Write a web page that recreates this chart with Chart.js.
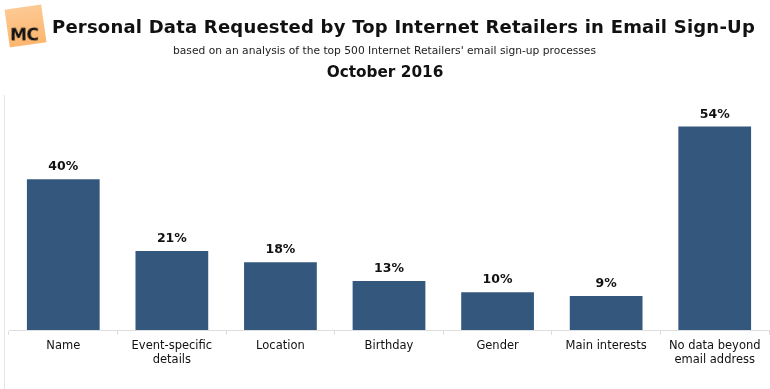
<!DOCTYPE html>
<html>
<head>
<meta charset="utf-8">
<script src="https://cdn.jsdelivr.net/npm/chart.js@4"></script>
<style>
  body { margin: 0; background: #fff; }
  #wrap { position: relative; width: 770px; height: 389px; overflow: hidden; }
  #chart { position: absolute; left: 0; top: 0; }
  .logo {
    position: absolute; left: 7px; top: 7px; width: 37px; height: 38px;
    background: linear-gradient(180deg, #fdc993 0%, #fcb66f 100%); transform: rotate(-8deg);
  }
  .logo span {
    position: absolute; left: 2px; top: 17px;
    font: bold 17px "DejaVu Sans", sans-serif; color: #111; letter-spacing: -0.5px;
    transform: rotate(8deg);
  }
  .title {
    position: absolute; left: 52px; top: 16px;
    font: bold 18px "DejaVu Sans", sans-serif; color: #111; white-space: nowrap;
  }
  .sub {
    position: absolute; left: 0; width: 769px; text-align: center;
    font: 10.7px "DejaVu Sans", sans-serif; color: #222; top: 44px;
  }
  .date {
    position: absolute; left: 0; width: 770px; text-align: center;
    font: bold 15.3px "DejaVu Sans", sans-serif; color: #111; top: 63px;
  }
  .edge { position: absolute; left: 4px; top: 95px; width: 1px; height: 294px; background: #e6e6e6; }
</style>
</head>
<body>
<div id="wrap">
  <canvas id="chart" width="770" height="389"></canvas>
  <div class="edge"></div>
  <div class="logo"><span>MC</span></div>
  <div class="title" id="title">Personal Data Requested by Top Internet Retailers in Email Sign-Up</div>
  <div class="sub">based on an analysis of the top 500 Internet Retailers' email sign-up processes</div>
  <div class="date">October 2016</div>
</div>
<script>
var categories = [
  'Name',
  ['Event-specific', 'details'],
  'Location',
  'Birthday',
  'Gender',
  'Main interests',
  ['No data beyond', 'email address']
]
var shares = [40, 21, 18, 13, 10, 9, 54]

// stretch the title to the width it has in the original
var t = document.getElementById('title')
var w = t.getBoundingClientRect().width
var chars = t.textContent.length
t.style.letterSpacing = ((703 - w) / chars) + 'px'

var valueLabels = {
  id: 'valueLabels',
  afterDatasetsDraw: function(chart) {
    var ctx = chart.ctx
    var meta = chart.getDatasetMeta(0)
    ctx.save()
    ctx.font = 'bold 12.5px "DejaVu Sans", sans-serif'
    ctx.fillStyle = '#111'
    ctx.textAlign = 'center'
    ctx.textBaseline = 'bottom'
    meta.data.forEach(function(bar, i) {
      ctx.fillText(shares[i] + '%', bar.x, bar.y - 6)
    })
    ctx.restore()
  }
}

var ctx = document.getElementById('chart').getContext('2d')
new Chart(ctx, {
  type: 'bar',
  data: {
    labels: categories,
    datasets: [{
      data: shares,
      backgroundColor: '#34587d',
      barPercentage: 0.67,
      categoryPercentage: 1
    }]
  },
  options: {
    responsive: false,
    animation: false,
    layout: { padding: { top: 104, left: 9, right: 1, bottom: 0 } },
    plugins: { legend: { display: false }, tooltip: { enabled: false } },
    scales: {
      x: {
        offset: true,
        grid: { display: true, drawOnChartArea: false, tickLength: 5, color: '#dedede', offset: true },
        border: { color: '#dedede' },
        ticks: {
          font: { family: '"DejaVu Sans", sans-serif', size: 11.5 },
          color: '#111',
          padding: 4,
          maxRotation: 0
        },
        afterFit: function(scale) { scale.height = 59 }
      },
      y: {
        display: false,
        min: 0,
        max: 60
      }
    }
  },
  plugins: [valueLabels]
})
</script>
</body>
</html>
